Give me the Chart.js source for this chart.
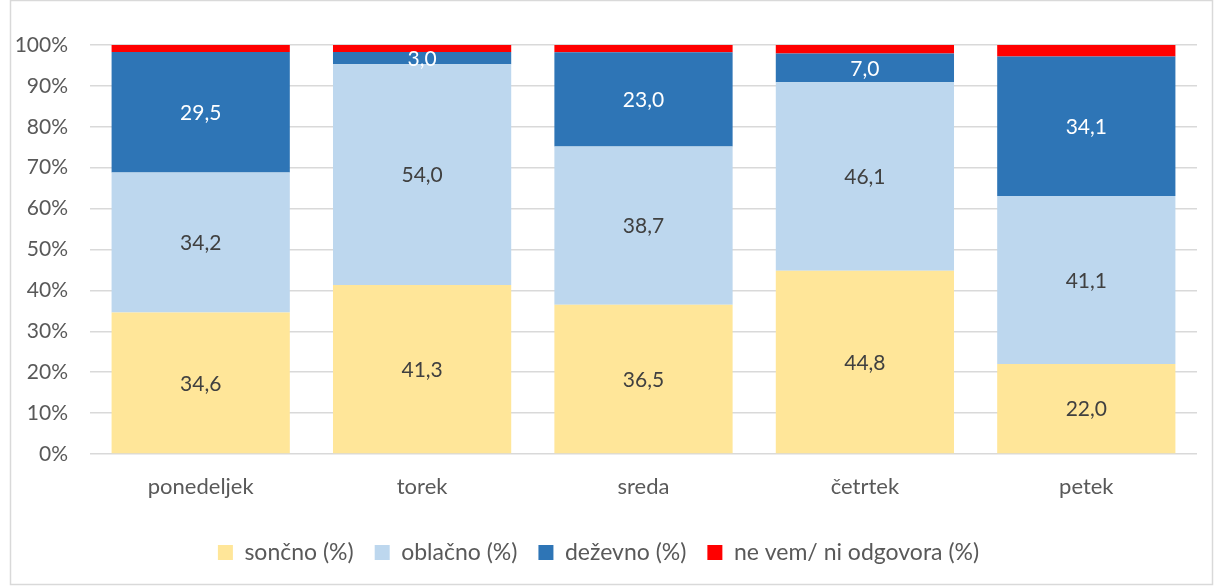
<!DOCTYPE html>
<html>
<head>
<meta charset="utf-8">
<script src="https://cdn.jsdelivr.net/npm/chart.js@4/dist/chart.umd.min.js"></script>
<style>
  html, body { margin: 0; padding: 0; background: #fff; }
  #wrap { width: 1215px; height: 586px; }
</style>
</head>
<body>
<div id="wrap"><canvas id="chart" width="1215" height="586"></canvas></div>
<script>
const days = ["ponedeljek", "torek", "sreda", "četrtek", "petek"];
const soncno = [34.6, 41.3, 36.5, 44.8, 22.0];
const oblacno = [34.2, 54.0, 38.7, 46.1, 41.1];
const dezevno = [29.5, 3.0, 23.0, 7.0, 34.1];
const neVem = [1.7, 1.7, 1.8, 2.1, 2.8];
const yTicks = [0, 10, 20, 30, 40, 50, 60, 70, 80, 90, 100];

const font = "Lato, 'Open Sans', sans-serif";

// value labels in the middle of each segment, decimal comma
const segLabels = {
  id: "segLabels",
  afterDatasetsDraw(chart) {
    const c = chart.ctx;
    c.save();
    c.font = "21px " + font;
    c.textAlign = "center";
    c.textBaseline = "middle";
    chart.data.datasets.forEach((ds, i) => {
      if (!ds.showLabel) return;
      chart.getDatasetMeta(i).data.forEach((bar, j) => {
        const p = bar.getProps(["x", "y", "base"], true);
        c.fillStyle = ds.labelColor;
        c.fillText(ds.data[j].toFixed(1).replace(".", ","), p.x, (p.y + p.base) / 2 + 1);
      });
    });
    c.restore();
  }
};

const frame = {
  id: "frame",
  beforeDraw(chart) {
    const c = chart.ctx;
    c.save();
    c.strokeStyle = "#d9d9d9";
    c.lineWidth = 1.5;
    c.strokeRect(10.5, 0.5, 1202, 584);
    c.restore();
  }
};

new Chart(document.getElementById("chart"), {
  type: "bar",
  data: {
    labels: days,
    datasets: [
      { label: "sončno (%)", data: soncno, backgroundColor: "#FFE699", showLabel: true, labelColor: "#404040" },
      { label: "oblačno (%)", data: oblacno, backgroundColor: "#BDD7EE", showLabel: true, labelColor: "#404040" },
      { label: "deževno (%)", data: dezevno, backgroundColor: "#2E75B6", showLabel: true, labelColor: "#ffffff" },
      { label: "ne vem/ ni odgovora (%)", data: neVem, backgroundColor: "#FF0000", showLabel: false }
    ]
  },
  options: {
    responsive: false,
    animation: false,
    layout: { padding: { left: 0, right: 18, top: 45, bottom: 12 } },
    datasets: { bar: { categoryPercentage: 1, barPercentage: 0.805 } },
    plugins: {
      tooltip: { enabled: false },
      legend: {
        position: "bottom",
        labels: {
          font: { family: font, size: 23 },
          color: "#595959",
          boxWidth: 15,
          boxHeight: 15,
          padding: 21
        }
      }
    },
    scales: {
      x: {
        stacked: true,
        grid: { display: false, drawTicks: false },
        border: { display: false },
        ticks: { font: { family: font, size: 22 }, color: "#595959", padding: 20 },
        afterFit(s) { s.height = 66; }
      },
      y: {
        stacked: true,
        min: 0,
        max: 100,
        afterBuildTicks(s) { s.ticks = yTicks.map(v => ({ value: v })); },
        grid: { color: "#d9d9d9", lineWidth: 1.5, drawTicks: false },
        border: { display: false },
        ticks: { font: { family: font, size: 21 }, color: "#595959", padding: 22, callback: v => v + "%" },
        afterFit(s) { s.width = 90; }
      }
    }
  },
  plugins: [segLabels, frame]
});
</script>
</body>
</html>
